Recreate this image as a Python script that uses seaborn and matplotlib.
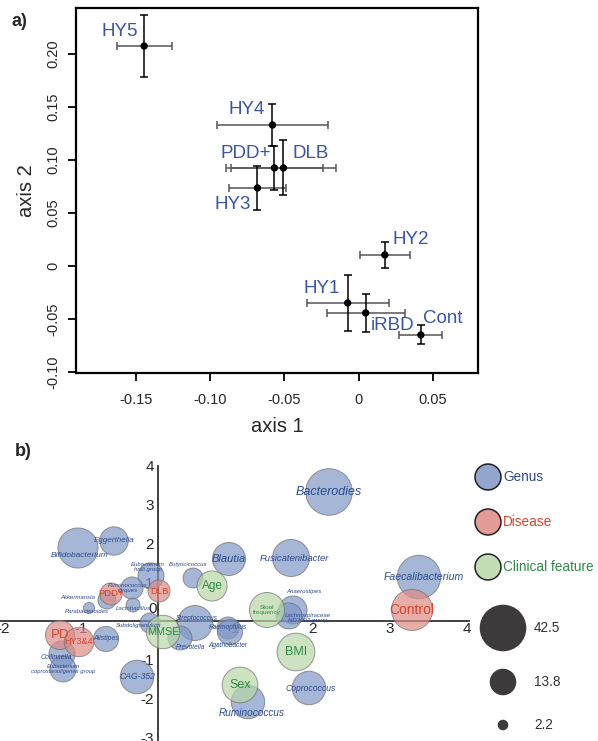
import numpy as np
import pandas as pd
import matplotlib
matplotlib.use("Agg")
import matplotlib.pyplot as plt
import seaborn as sns

# ---- panel a: group centroids with error bars ----
groups = ['HY5', 'HY4', 'PDD+', 'DLB', 'HY3', 'HY2', 'HY1', 'iRBD', 'Cont']
axis1 = [-0.1446, -0.0581, -0.0568, -0.0507, -0.0682, 0.0176, -0.0074, 0.0047, 0.0419]
axis2 = [0.2075, 0.1330, 0.0925, 0.0925, 0.0736, 0.0104, -0.0349, -0.0443, -0.0651]
err1 = [0.0185, 0.0372, 0.0328, 0.0351, 0.0189, 0.0170, 0.0277, 0.0263, 0.0145]
err2 = [0.0290, 0.0198, 0.0208, 0.0260, 0.0208, 0.0123, 0.0260, 0.0180, 0.0090]

# ---- panel b: biplot bubbles ----
genus = ['Bacterodies', 'Bifidobacterium', 'Eggerthella', 'Blautia', 'Fusicatenibacter',
         'Faecalibacterium', 'Eubacterium\nhalli group', 'Butyricicoccus', 'Ruminococcus\ntorques',
         'Akkermansia', 'Parabacteroides', 'Lactobacillus', 'Subdoligranulum', 'Streptococcus',
         'Prevotella', 'Haemophilus', 'Agathobacter', 'Alistipes', 'Collinsella',
         'Eubacterium\ncoprostanoligenes group', 'CAG-352', 'Ruminococcus', 'Coprococcus',
         'Anaerostipes', 'Lachnospiraceae\nND3007 group']
genus_x = [2.212, -1.035, -0.569, 0.918, 1.721, 3.376, -0.091, 0.453, -0.336, -0.660, -0.893,
           -0.323, -0.103, 0.479, 0.285, 0.906, 0.931, -0.673, -1.242, -1.229, -0.272, 1.164,
           1.953, 1.746, 1.695]
genus_y = [3.325, 1.881, 2.062, 1.598, 1.624, 1.134, 1.160, 1.108, 0.851, 0.541, 0.335, 0.412,
           -0.052, -0.052, -0.438, -0.180, -0.284, -0.464, -0.851, -1.237, -1.443, -2.088,
           -1.727, 0.284, 0.129]
genus_val = [42.5, 31.4, 15.8, 21.4, 26.9, 36.9, 13.3, 7.8, 9.5, 6.4, 2.4, 3.8, 7.8, 24.0, 11.3,
             9.5, 12.3, 12.3, 13.3, 13.3, 21.9, 21.9, 21.9, 15.4, 13.3]

disease = ['Control', 'PD', 'HY3&4', 'PDD+', 'DLB']
disease_x = [3.286, -1.268, -1.022, -0.608, 0.013]
disease_y = [0.284, -0.361, -0.541, 0.696, 0.773]
disease_val = [33.0, 16.5, 17.0, 9.5, 9.5]

clinical = ['Age', 'MMSE', 'Stool\nfrequency', 'BMI', 'Sex']
clinical_x = [0.699, 0.065, 1.410, 1.785, 1.061]
clinical_y = [0.902, -0.284, 0.284, -0.799, -1.649]
clinical_val = [17.7, 21.9, 24.0, 27.7, 24.9]

size_legend = [42.5, 13.8, 2.2]
type_names = ['Genus', 'Disease', 'Clinical feature']

# ---- styling ----
sns.set_style('white')
plt.rcParams['font.family'] = ['Liberation Sans', 'DejaVu Sans']

fill = {'Genus': '#7f97c5', 'Disease': '#dd8a85', 'Clinical feature': '#b8d6a6'}
txt = {'Genus': '#2d4b8e', 'Disease': '#d8432b', 'Clinical feature': '#2e8b47'}

W, H = 598, 741
PT = 0.72  # points per pixel at 100 dpi
fig = plt.figure(figsize=(W / 100, H / 100), dpi=100)


def px_axes(l, t, r, b):
    return fig.add_axes([l / W, 1 - b / H, (r - l) / W, (b - t) / H])


# ================= panel a =================
ax = px_axes(76, 8, 478, 373)
ax.errorbar(axis1, axis2, xerr=err1, fmt='none', ecolor='#555555', elinewidth=1.1,
            capsize=3.2, capthick=1.1, zorder=2)
ax.errorbar(axis1, axis2, yerr=err2, fmt='none', ecolor='black', elinewidth=1.1,
            capsize=3.2, capthick=1.1, zorder=2)
sns.scatterplot(x=axis1, y=axis2, color='black', s=28, edgecolor='none', ax=ax, zorder=3)

# label placement: (dx, dy in px, ha, va)
a_pos = {'HY5': (-6, 6, 'right', 'bottom'), 'HY4': (-8, 7, 'right', 'bottom'),
         'PDD+': (-4, 6, 'right', 'bottom'), 'DLB': (9, 6, 'left', 'bottom'),
         'HY3': (-7, -8, 'right', 'top'), 'HY2': (8, 7, 'left', 'bottom'),
         'HY1': (-8, 6, 'right', 'bottom'), 'iRBD': (5, -4, 'left', 'top'),
         'Cont': (2, 8, 'left', 'bottom')}
for g, x, y in zip(groups, axis1, axis2):
    dx, dy, ha, va = a_pos[g]
    ax.annotate(g, (x, y), xytext=(dx * PT, dy * PT), textcoords='offset points',
                ha=ha, va=va, fontsize=13.5, color='#3a55a4')

ax.set_xlim(-0.1905, 0.0804)
ax.set_ylim(-0.101, 0.2434)
ax.set_xticks([-0.15, -0.10, -0.05, 0, 0.05])
ax.set_xticklabels(['-0.15', '-0.10', '-0.05', '0', '0.05'])
ax.set_yticks([-0.10, -0.05, 0, 0.05, 0.10, 0.15, 0.20])
ax.set_yticklabels(['-0.10', '-0.05', '0', '0.05', '0.10', '0.15', '0.20'],
                   rotation=90, va='center')
ax.tick_params(direction='out', length=5.5, width=1.3, labelsize=10.5, color='black',
               bottom=True, left=True)
ax.tick_params(axis='x', pad=9)
ax.tick_params(axis='y', pad=6)
for s in ax.spines.values():
    s.set_color('black')
    s.set_linewidth(1.6)
ax.set_xlabel('axis 1', fontsize=14.5, labelpad=7)
ax.set_ylabel('axis 2', fontsize=14.5, labelpad=7)
fig.text(12 / W, 1 - 22 / H, 'a)', fontsize=13, fontweight='bold', va='center')

# ================= panel b =================
dfb = pd.concat([
    pd.DataFrame({'label': genus, 'x': genus_x, 'y': genus_y, 'value': genus_val, 'type': 'Genus'}),
    pd.DataFrame({'label': disease, 'x': disease_x, 'y': disease_y, 'value': disease_val,
                  'type': 'Disease'}),
    pd.DataFrame({'label': clinical, 'x': clinical_x, 'y': clinical_y, 'value': clinical_val,
                  'type': 'Clinical feature'}),
], ignore_index=True)

SMAX = (2 * 23.3 * PT) ** 2
bx = px_axes(0, 440, 470, 741)
sns.scatterplot(data=dfb, x='x', y='y', hue='type', palette=fill, size='value',
                sizes=(0, SMAX), size_norm=(0, 42.5), alpha=0.7, edgecolor='#6e6e6e',
                linewidth=0.7, legend=False, ax=bx, zorder=3)

b_shift = {'Bifidobacterium': (2, -7), 'Fusicatenibacter': (3, -1), 'Faecalibacterium': (5, 0),
           'Eubacterium\nhalli group': (-3, 9), 'Butyricicoccus': (-5, 14),
           'Ruminococcus\ntorques': (-4, 0), 'Akkermansia': (-29, 3),
           'Parabacteroides': (-2, -4), 'Lactobacillus': (0, -3), 'Subdoligranulum': (-11, -2),
           'Streptococcus': (2, 5), 'Prevotella': (10, -10), 'Agathobacter': (-2, -13),
           'Collinsella': (-6, -3), 'Ruminococcus': (4, -11), 'Coprococcus': (2, 0),
           'Anaerostipes': (11, 18), 'Lachnospiraceae\nND3007 group': (19, -2)}
b_font = {'Bacterodies': 9, 'Bifidobacterium': 6, 'Eggerthella': 5.8, 'Blautia': 8,
          'Fusicatenibacter': 6.8, 'Faecalibacterium': 7.6, 'CAG-352': 6.2, 'Ruminococcus': 7.2,
          'Coprococcus': 6.2, 'Streptococcus': 4.8, 'Prevotella': 4.8, 'Haemophilus': 4.8,
          'Agathobacter': 4.8, 'Alistipes': 5, 'Collinsella': 5,
          'Eubacterium\ncoprostanoligenes group': 4.2,
          'Control': 10, 'PD': 9.5, 'HY3&4': 6.5, 'PDD+': 6.8, 'DLB': 6.8,
          'Age': 8.5, 'MMSE': 7.8, 'Stool\nfrequency': 4.6, 'BMI': 9, 'Sex': 9}
for _, r in dfb.iterrows():
    dx, dy = b_shift.get(r['label'], (0, 0))
    bx.annotate(r['label'], (r['x'], r['y']), xytext=(dx * PT, dy * PT),
                textcoords='offset points', ha='center', va='center',
                fontsize=b_font.get(r['label'], 4.3), color=txt[r['type']],
                style='italic' if r['type'] == 'Genus' else 'normal',
                linespacing=0.85, zorder=4)

bx.set_xlim(-2.044, 4.036)
bx.set_ylim(-3.093, 4.665)
for side in ['top', 'right']:
    bx.spines[side].set_visible(False)
bx.spines['left'].set_position(('data', 0))
bx.spines['bottom'].set_position(('data', 0))
bx.spines['left'].set_bounds(-3.08, 4.0)
bx.spines['bottom'].set_bounds(-2.05, 4.02)
for side in ['left', 'bottom']:
    bx.spines[side].set_color('#333333')
    bx.spines[side].set_linewidth(1.3)
    bx.spines[side].set_zorder(1)
bx.set_xticks([-2, -1, 1, 2, 3, 4])
bx.set_xticklabels(['-2', '-1', '1', '2', '3', '4'])
bx.set_yticks([-3, -2, -1, 1, 2, 3, 4])
bx.set_yticklabels(['-3', '-2', '-1', '1', '2', '3', '4'])
bx.tick_params(length=0, labelsize=11)
bx.tick_params(axis='x', pad=1)
bx.tick_params(axis='y', pad=3)
bx.text(-0.065, 0.31, '0', ha='center', va='center', fontsize=11)
bx.set_xlabel('')
bx.set_ylabel('')
bx.patch.set_alpha(0)
fig.text(15 / W, 1 - 452 / H, 'b)', fontsize=13, fontweight='bold', va='center')

# ================= legend =================
lx = px_axes(460, 450, 598, 741)
lx.set_xlim(460, 598)
lx.set_ylim(741, 450)
lx.axis('off')
leg_types = pd.DataFrame({'type': type_names, 'x': 488, 'y': [477, 522, 567]})
sns.scatterplot(data=leg_types, x='x', y='y', hue='type', palette=fill, s=(26 * PT) ** 2,
                alpha=0.85, edgecolor='black', linewidth=1.1, legend=False, ax=lx)
for t, y in zip(leg_types['type'], leg_types['y']):
    lx.text(503, y, t, ha='left', va='center', fontsize=9.8, color=txt[t])
leg_sizes = pd.DataFrame({'value': size_legend, 'x': 503, 'y': [628, 682, 725]})
sns.scatterplot(data=leg_sizes, x='x', y='y', size='value', sizes=(0, SMAX),
                size_norm=(0, 42.5), color='#3d3a3b', edgecolor='none', legend=False, ax=lx)
for v, y in zip(leg_sizes['value'], leg_sizes['y']):
    lx.text(534, y, f'{v}', ha='left', va='center', fontsize=9.8, color='#333333')
lx.set_xlabel('')
lx.set_ylabel('')

fig.savefig('out.png', dpi=100)
